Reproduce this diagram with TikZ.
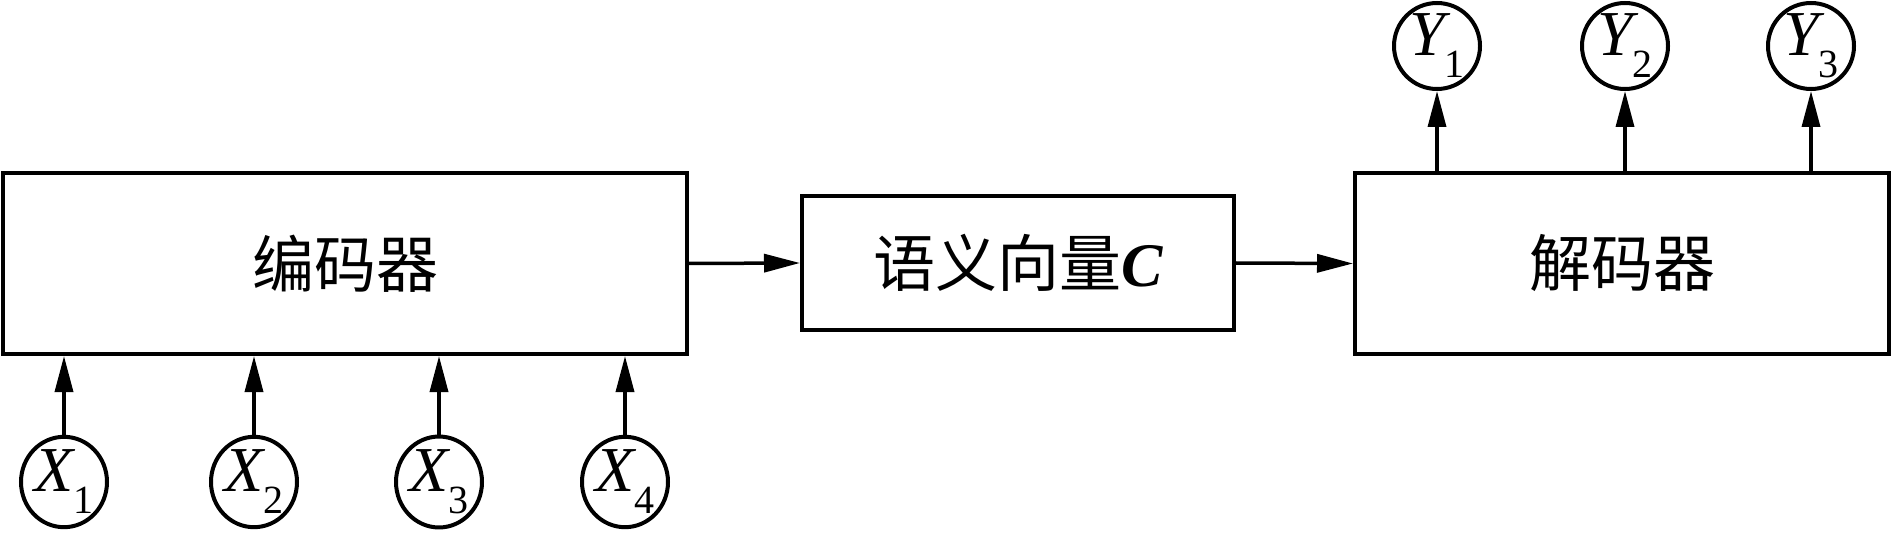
\documentclass[tikz,border=0pt]{standalone}
\usepackage{fontspec}
\setmainfont{Liberation Serif}
\newfontfamily\cjk{Noto Sans CJK SC}
\usetikzlibrary{arrows.meta,shapes.geometric}
\begin{document}
\begin{tikzpicture}[x=1pt,y=-1pt,
  box/.style={draw,line width=4pt,inner sep=0pt,font=\cjk\fontsize{62}{62}\selectfont},
  xc/.style={draw,line width=4pt,ellipse,inner sep=0pt,minimum width=86pt,minimum height=90pt},
  yc/.style={draw,line width=4pt,circle,inner sep=0pt,minimum size=86pt},
  arr/.style={line width=3.5pt,-{Triangle[length=36pt,width=18pt]}}]
\useasboundingbox (0,0) rectangle (1893,537);
\node[box,minimum width=684pt,minimum height=181pt] (enc) at (345,263.5) {编码器};
\node[box,minimum width=432pt,minimum height=134pt] (sem) at (1018,263) {语义向量{\rmfamily\bfseries\itshape C}};
\node[box,minimum width=534pt,minimum height=181pt] (dec) at (1622,263.5) {解码器};
\newcommand{\sub}[2]{{\fontsize{64}{64}\selectfont\itshape #1}\raisebox{-22pt}{\fontsize{40}{40}\selectfont #2}}
\node[xc] (x1) at (64,482) {\sub{X}{1}};
\node[xc] (x2) at (254,482) {\sub{X}{2}};
\node[xc] (x3) at (439,482) {\sub{X}{3}};
\node[xc] (x4) at (625,482) {\sub{X}{4}};
\node[yc] (y1) at (1437,46) {\sub{Y}{1}};
\node[yc] (y2) at (1625,46) {\sub{Y}{2}};
\node[yc] (y3) at (1811,46) {\sub{Y}{3}};
\draw[arr] (enc.east) -- (sem.west);
\draw[arr] (sem.east) -- (dec.west);
\foreach \i in {1,2,3,4} \draw[arr] (x\i.north) -- (x\i.north |- enc.south);
\foreach \i in {1,2,3} \draw[arr] (y\i.south |- dec.north) -- (y\i.south);
\end{tikzpicture}
\end{document}
